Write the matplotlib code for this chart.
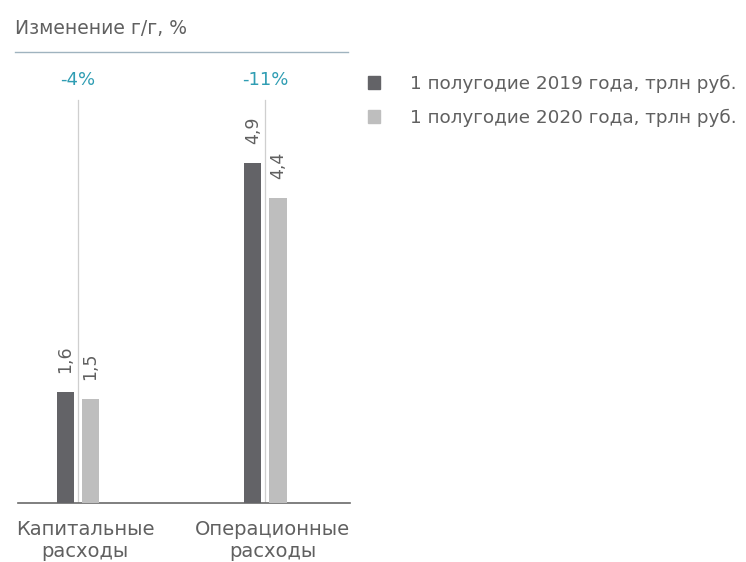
import matplotlib
matplotlib.use("Agg")
import matplotlib.pyplot as plt
from matplotlib.lines import Line2D
from matplotlib.patches import Patch
import numpy as np

plt.rcParams["font.family"] = ["DejaVu Sans"]

categories = ["Капитальные\nрасходы", "Операционные\nрасходы"]
h1_2019 = [1.6, 4.9]
h1_2020 = [1.5, 4.4]
yoy_change = ["-4%", "-11%"]
series_labels = ["1 полугодие 2019 года, трлн руб.", "1 полугодие 2020 года, трлн руб."]

DARK = "#636367"
LIGHT = "#bebebe"
TEXT = "#606060"
TEAL = "#2f9db3"

W, H = 746, 562
fig = plt.figure(figsize=(W / 100, H / 100), dpi=100)

# axes placed in pixel terms: x 18..350, y 52..503 (from top)
ax = fig.add_axes([18 / W, (H - 503) / H, 332 / W, 451 / H])
x = np.arange(len(categories))
width = 0.0907
off = 0.0667
b1 = ax.bar(x - off, h1_2019, width, color=DARK, zorder=3)
b2 = ax.bar(x + off, h1_2020, width, color=LIGHT, zorder=3)

ax.set_xlim(-0.32, 1.4507)
ax.set_ylim(0, 6.508)
for s in ("top", "right", "left"):
    ax.spines[s].set_visible(False)
ax.spines["bottom"].set_color("#6a6a6a")
ax.spines["bottom"].set_linewidth(1.2)
ax.set_yticks([])
ax.set_xticks([])

# category names sit a little right of the bar pair
for xi, name in zip(x, categories):
    ax.annotate(name, (xi, 0), xytext=(5, -12), textcoords="offset points",
                ha="center", va="top", fontsize=14, color=TEXT,
                linespacing=1.2, annotation_clip=False)

# thin guide from the change label down to the baseline
for xi, lbl in zip(x, yoy_change):
    ax.plot([xi, xi], [0, 5.82], color="#cfcfcf", lw=0.9, zorder=1)
    ax.text(xi, 6.10, lbl, ha="center", va="center", fontsize=13, color=TEAL)

for bars in (b1, b2):
    for rect in bars:
        v = rect.get_height()
        ax.annotate(f"{v:.1f}".replace(".", ","),
                    (rect.get_x() + rect.get_width() / 2, v),
                    xytext=(0, 14), textcoords="offset points",
                    rotation=90, ha="center", va="bottom",
                    fontsize=12.5, color=TEXT)

fig.text(15 / W, 1 - 28 / H, "Изменение г/г, %", fontsize=13.5, color=TEXT,
         ha="left", va="center")
fig.add_artist(Line2D([15 / W, 348 / W], [1 - 52 / H, 1 - 52 / H],
                      color="#9fb3bf", lw=1.0))

handles = [Patch(color=DARK), Patch(color=LIGHT)]
fig.legend(handles, series_labels, loc="upper left",
           bbox_to_anchor=(351 / W, 1 - 58 / H), frameon=False,
           fontsize=13.2, handlelength=0.7, handleheight=0.7,
           handletextpad=1.6, labelspacing=0.88, labelcolor=TEXT)

fig.savefig("out.png", dpi=100)
